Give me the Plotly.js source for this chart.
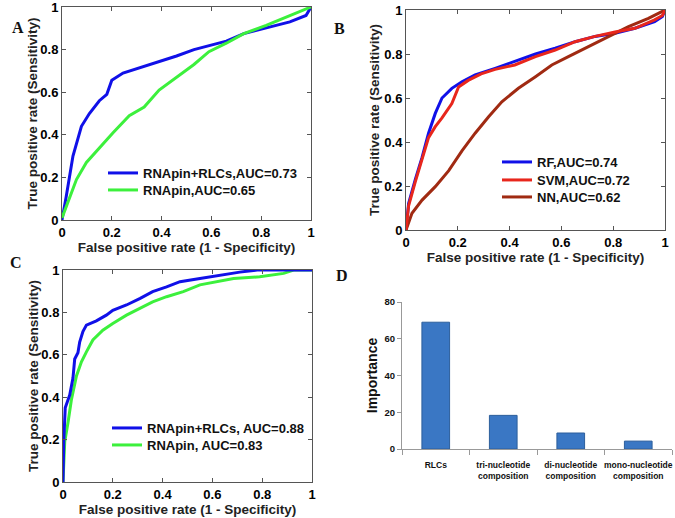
<!DOCTYPE html>
<html>
<head>
<meta charset="utf-8">
<script src="https://cdn.plot.ly/plotly-3.0.1.min.js"></script>
<style>html,body{margin:0;padding:0;background:#fff;}#chart{width:675px;height:518px;}</style>
</head>
<body>
<div id="chart"></div>
<script>
// Panel A
const fprA_rlcs = [0,0.004,0.017,0.044,0.078,0.11,0.15,0.18,0.2,0.245,0.3,0.35,0.405,0.46,0.53,0.59,0.66,0.73,0.82,0.915,0.98,1.0];
const tprA_rlcs = [0,0.03,0.11,0.30,0.44,0.50,0.56,0.59,0.656,0.69,0.71,0.73,0.75,0.77,0.80,0.82,0.84,0.875,0.90,0.93,0.96,1.0];
const fprA_pin = [0,0.017,0.058,0.098,0.15,0.205,0.27,0.33,0.39,0.46,0.53,0.59,0.66,0.73,0.82,0.915,1.0];
const tprA_pin = [0.01,0.06,0.19,0.27,0.34,0.41,0.49,0.53,0.61,0.67,0.73,0.79,0.83,0.875,0.914,0.96,1.0];
const namesA = ['RNApin+RLCs,AUC=0.73','RNApin,AUC=0.65'];

// Panel B
const fprB_rf = [0,0.01,0.036,0.062,0.087,0.113,0.139,0.177,0.216,0.267,0.344,0.42,0.5,0.576,0.653,0.73,0.807,0.884,0.96,0.99,1];
const tprB_rf = [0,0.12,0.23,0.33,0.44,0.53,0.60,0.644,0.674,0.705,0.735,0.765,0.80,0.826,0.856,0.88,0.894,0.917,0.947,0.97,1];
const fprB_svm = [0,0.01,0.036,0.062,0.087,0.113,0.139,0.177,0.203,0.24,0.29,0.344,0.42,0.5,0.576,0.653,0.73,0.807,0.884,0.96,0.99,1];
const tprB_svm = [0,0.11,0.22,0.32,0.42,0.47,0.51,0.575,0.65,0.68,0.71,0.73,0.75,0.788,0.818,0.856,0.88,0.90,0.917,0.955,0.975,1];
const fprB_nn = [0,0.023,0.062,0.113,0.165,0.216,0.267,0.319,0.37,0.434,0.5,0.563,0.627,0.704,0.78,0.859,0.936,1];
const tprB_nn = [0,0.076,0.136,0.197,0.27,0.36,0.44,0.515,0.583,0.644,0.697,0.75,0.788,0.833,0.88,0.924,0.962,1];
const namesB = ['RF,AUC=0.74','SVM,AUC=0.72','NN,AUC=0.62'];

// Panel C
const fprC_rlcs = [0,0.003,0.009,0.027,0.04,0.047,0.06,0.067,0.08,0.094,0.134,0.174,0.2,0.255,0.31,0.36,0.416,0.47,0.55,0.63,0.71,0.78,1];
const tprC_rlcs = [0,0.19,0.35,0.41,0.49,0.58,0.61,0.66,0.71,0.74,0.76,0.787,0.81,0.835,0.866,0.898,0.92,0.945,0.96,0.976,0.99,1,1];
const fprC_pin = [0,0.007,0.02,0.034,0.054,0.074,0.094,0.12,0.16,0.2,0.255,0.31,0.36,0.416,0.483,0.55,0.617,0.685,0.79,0.886,0.926,1];
const tprC_pin = [0,0.19,0.28,0.39,0.50,0.567,0.614,0.67,0.716,0.748,0.787,0.819,0.85,0.874,0.898,0.93,0.945,0.96,0.968,0.984,1,1];
const namesC = ['RNApin+RLCs, AUC=0.88','RNApin, AUC=0.83'];

// Panel D
const featD = ['RLCs','tri-nucleotide<br>composition','di-nucleotide<br>composition','mono-nucleotide<br>composition'];
const impD = [69, 18.3, 8.7, 4.3];

const rocTicks = [0,0.2,0.4,0.6,0.8,1];
const rocTickText = ['0','0.2','0.4','0.6','0.8','1'];
const xTitle = 'False positive rate (1 - Specificity)';
const yTitle = 'True positive rate (Sensitivity)';

const BLUE='#1010e8', GREEN='#3cf03c', RED='#e8261c', BROWN='#a02a12';
const LW=3;

function ln(x,y,name,color,xa,ya,leg){
  return {x:x,y:y,name:name,type:'scatter',mode:'lines',line:{color:color,width:LW},xaxis:xa,yaxis:ya,legend:leg};
}

const data = [
  ln(fprA_rlcs,tprA_rlcs,namesA[0],BLUE,'x','y','legend'),
  ln(fprA_pin,tprA_pin,namesA[1],GREEN,'x','y','legend2'),
  ln(fprB_rf,tprB_rf,namesB[0],BLUE,'x2','y2','legend3'),
  ln(fprB_nn,tprB_nn,namesB[2],BROWN,'x2','y2','legend5'),
  ln(fprB_svm,tprB_svm,namesB[1],RED,'x2','y2','legend4'),
  ln(fprC_pin,tprC_pin,namesC[1],GREEN,'x3','y3','legend7'),
  ln(fprC_rlcs,tprC_rlcs,namesC[0],BLUE,'x3','y3','legend6'),
  {x:featD,y:impD,type:'bar',xaxis:'x4',yaxis:'y4',showlegend:false,
   marker:{color:'#3a77c4',line:{color:'#2d5f9c',width:1}},width:0.41}
];

const W=675,H=518;
function dx(a,b){return [a/W,b/W];}
function dy(top,bot){return [1-bot/H,1-top/H];}

const tickFont = {family:'Liberation Sans, Arial, sans-serif',size:13,color:'#000',weight:'bold'};
const titleFont = {family:'Liberation Sans, Arial, sans-serif',size:13.5,color:'#222',weight:'bold'};

function rocX(dom,anchor){
  return {domain:dom,anchor:anchor,range:[0,1],tickvals:rocTicks,ticktext:rocTickText,
    ticks:'inside',ticklen:4,tickcolor:'#555',mirror:'ticks',showline:true,linecolor:'#555',linewidth:1,
    showgrid:false,zeroline:false,tickfont:tickFont,ticklabeloverflow:'allow',
    title:{text:xTitle,font:titleFont,standoff:0},fixedrange:true};
}
function rocY(dom,anchor){
  return {domain:dom,anchor:anchor,range:[0,1],tickvals:rocTicks,ticktext:rocTickText,
    ticks:'inside',ticklen:4,tickcolor:'#555',mirror:'ticks',showline:true,linecolor:'#555',linewidth:1,
    showgrid:false,zeroline:false,tickfont:tickFont,ticklabeloverflow:'allow',fixedrange:true};
}

const legFont = {family:'Liberation Sans, Arial, sans-serif',size:13,color:'#111',weight:'bold'};
// single-entry legends placed by text start (px) and row centre (px)
function leg(textStart,rowY){
  return {x:(textStart-40)/W,y:1-rowY/H,xanchor:'left',yanchor:'middle',xref:'paper',yref:'paper',
    bgcolor:'rgba(0,0,0,0)',borderwidth:0,font:legFont,itemwidth:30};
}

const panelFont = {family:'Liberation Serif, Times New Roman, serif',size:16,weight:'bold',color:'#111'};
function yTitleAnn(xpx,top,bot){
  return {text:yTitle,x:xpx/W,y:1-((top+bot)/2)/H,xref:'paper',yref:'paper',showarrow:false,
    textangle:-90,xanchor:'center',yanchor:'middle',font:titleFont};
}

const layout = {
  width:W,height:H,margin:{l:0,r:0,t:0,b:0},paper_bgcolor:'#fff',plot_bgcolor:'#fff',
  showlegend:true,
  xaxis:rocX(dx(62,311),'y'), yaxis:rocY(dy(7,220),'x'),
  xaxis2:rocX(dx(406,665),'y2'), yaxis2:rocY(dy(10,230),'x2'),
  xaxis3:rocX(dx(63,312),'y3'), yaxis3:rocY(dy(270,482),'x3'),
  xaxis4:{domain:dx(402,672),anchor:'y4',showline:true,linecolor:'#999',linewidth:1,
    ticks:'outside',ticklen:5,tickcolor:'#999',tickson:'boundaries',showgrid:false,tickangle:0,ticklabelstandoff:8,
    tickfont:{family:'Liberation Sans, Arial, sans-serif',size:8.5,color:'#111',weight:'bold'},fixedrange:true},
  yaxis4:{domain:dy(302,449),anchor:'x4',range:[0,80],tickvals:[0,20,40,60,80],showline:true,linecolor:'#999',linewidth:1,
    ticks:'outside',ticklen:4,tickcolor:'#999',showgrid:false,zeroline:false,
    tickfont:{family:'Liberation Sans, Arial, sans-serif',size:9.5,color:'#111',weight:'bold'},
    title:{text:'Importance',font:{family:'Liberation Sans, Arial, sans-serif',size:14,color:'#111',weight:'bold'},standoff:3},fixedrange:true},
  legend:leg(143,173),
  legend2:leg(143,190),
  legend3:leg(537,162),
  legend4:leg(537,180),
  legend5:leg(537,197),
  legend6:leg(147,428),
  legend7:leg(147,445),
  annotations:[
    {text:'A',x:10/W,y:1-17/H,xref:'paper',yref:'paper',showarrow:false,font:panelFont},
    {text:'B',x:340/W,y:1-18/H,xref:'paper',yref:'paper',showarrow:false,font:panelFont},
    {text:'C',x:8/W,y:1-262/H,xref:'paper',yref:'paper',showarrow:false,font:panelFont},
    {text:'D',x:342/W,y:1-275/H,xref:'paper',yref:'paper',showarrow:false,font:panelFont},
    yTitleAnn(32,7,220),
    yTitleAnn(375,10,230),
    yTitleAnn(33,270,482)
  ]
};

Plotly.newPlot('chart',data,layout,{displayModeBar:false,staticPlot:true});
</script>
</body>
</html>
